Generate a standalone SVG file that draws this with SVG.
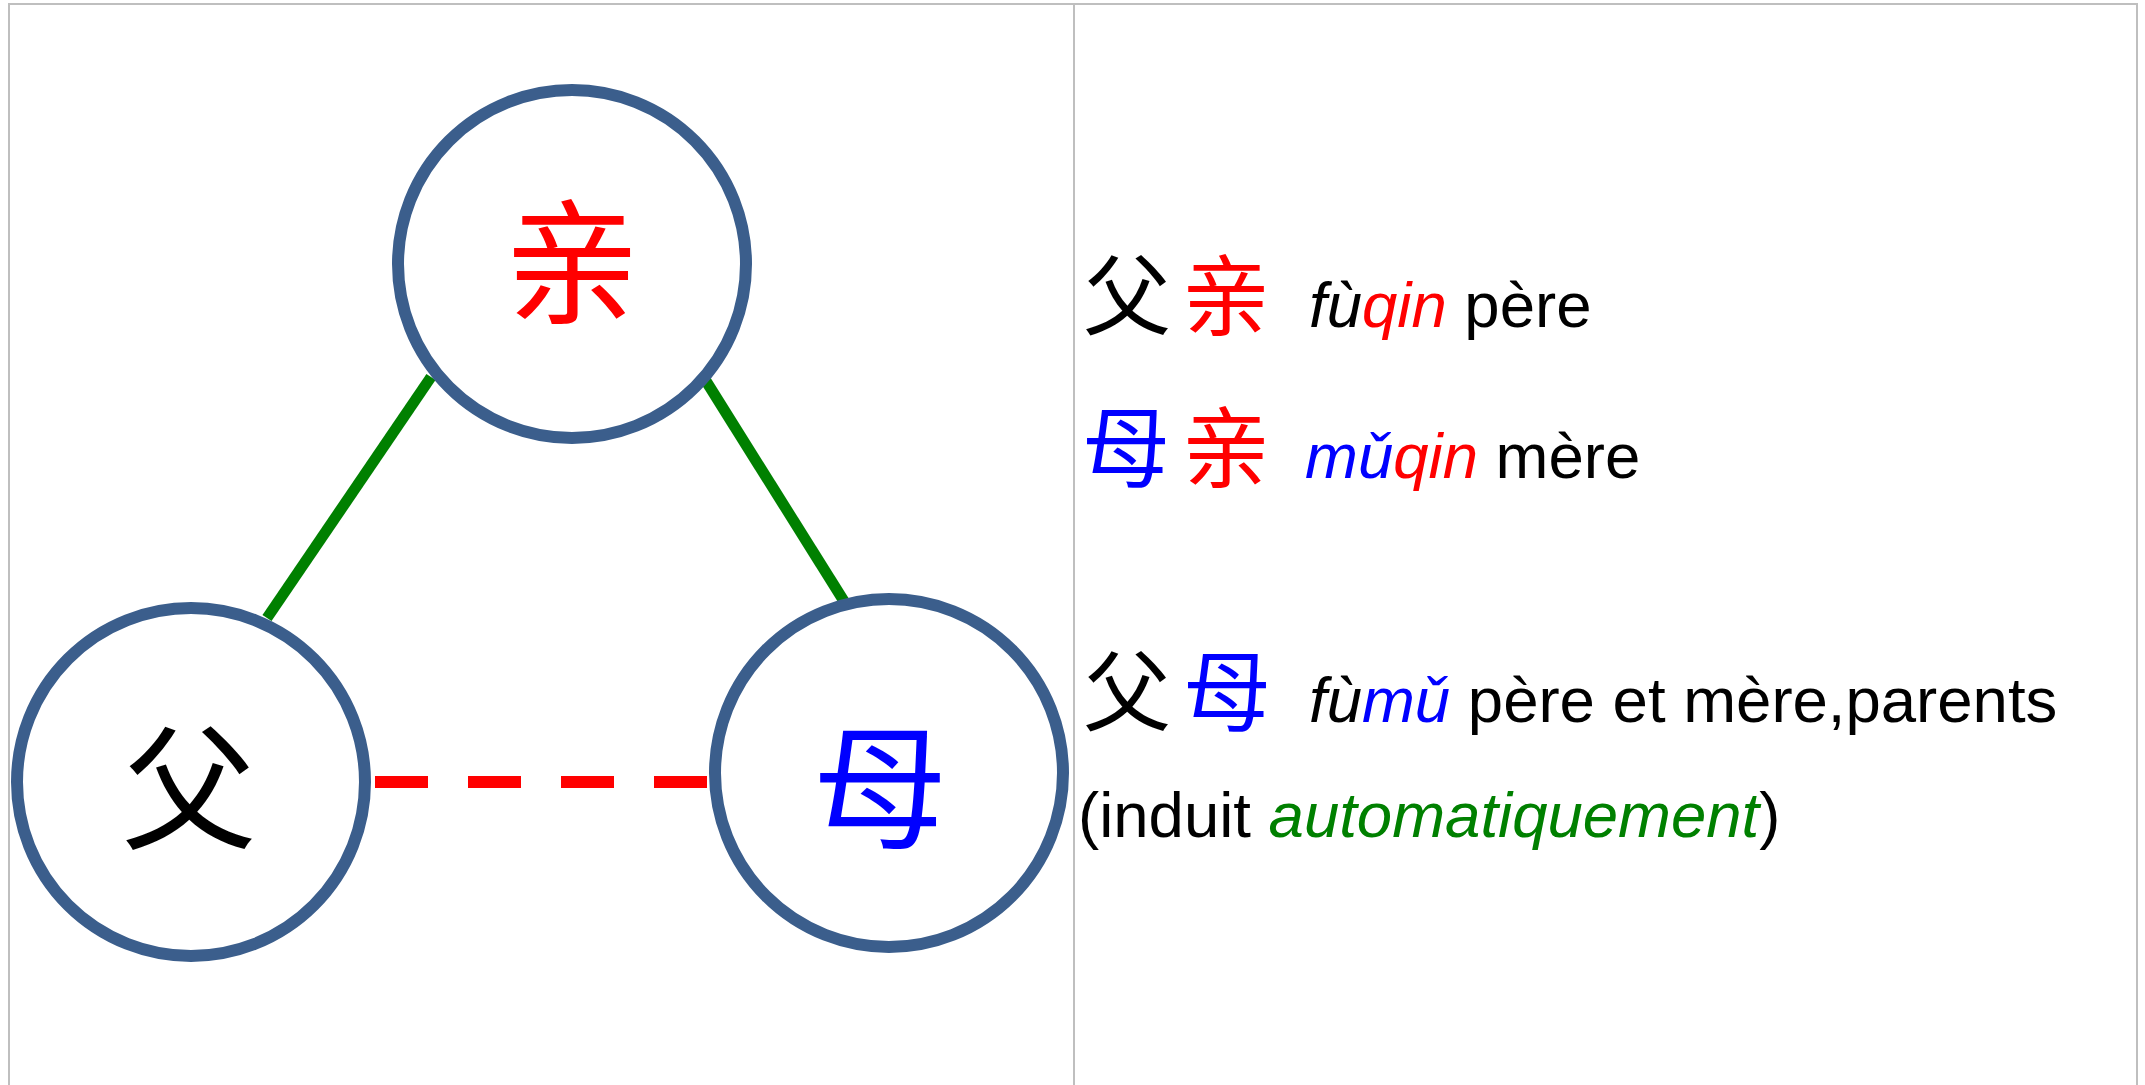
<svg xmlns="http://www.w3.org/2000/svg" width="2145" height="1085" viewBox="0 0 2145 1085">
<style>
.node{fill:#fff;stroke:#3b5e8c;stroke-width:12}
.hz{font-family:"Noto Sans CJK SC","Noto Sans CJK TC",sans-serif;text-anchor:middle}
.big{font-size:135px}
.sm{font-size:88px}
.lat{font-family:"Liberation Sans",Arial,sans-serif;font-size:63.5px}
.it{font-style:italic}
.blk{fill:#000}.red{fill:#ff0000}.blu{fill:#0000ff}.grn{fill:#008000}
.grid{stroke:#bfbfbf;stroke-width:2;fill:none}
</style>
<rect width="2145" height="1085" fill="#fff"/>
<g id="table">
<path class="grid" d="M9,1085 V4 H2137 V1085 M1074,4 V1085"/>
</g>
<g id="connectors">
<line x1="267" y1="618" x2="431" y2="377" stroke="#008000" stroke-width="11"/>
<line x1="706" y1="381" x2="847" y2="606" stroke="#008000" stroke-width="11"/>
<line x1="375" y1="782" x2="707" y2="782" stroke="#ff0000" stroke-width="12" stroke-dasharray="53 40"/>
</g>
<g id="node-qin">
<circle class="node" cx="572" cy="264" r="174"/>
<text class="hz big red" x="572" y="313">亲</text>
</g>
<g id="node-fu">
<circle class="node" cx="191" cy="782" r="174"/>
<text class="hz big blk" x="189" y="839">父</text>
</g>
<g id="node-mu">
<circle class="node" cx="889" cy="773" r="174"/>
<text class="hz big blu" x="880" y="838">母</text>
</g>
<g id="legend">
<text class="hz sm blk" x="1127" y="328">父</text>
<text class="hz sm red" x="1226" y="328">亲</text>
<text class="lat" x="1309" y="327"><tspan class="it blk">fù</tspan><tspan class="it red">qin</tspan><tspan class="blk"> père</tspan></text>
<text class="hz sm blu" x="1126" y="480">母</text>
<text class="hz sm red" x="1226" y="480">亲</text>
<text class="lat" x="1305" y="478"><tspan class="it blu">mǔ</tspan><tspan class="it red">qin</tspan><tspan class="blk"> mère</tspan></text>
<text class="hz sm blk" x="1127" y="724">父</text>
<text class="hz sm blu" x="1227" y="724">母</text>
<text class="lat" x="1309" y="722"><tspan class="it blk">fù</tspan><tspan class="it blu">mǔ</tspan><tspan class="blk"> père et mère,parents</tspan></text>
<text class="lat blk" x="1078" y="837">(induit <tspan class="it grn">automatiquement</tspan>)</text>
</g>
</svg>
